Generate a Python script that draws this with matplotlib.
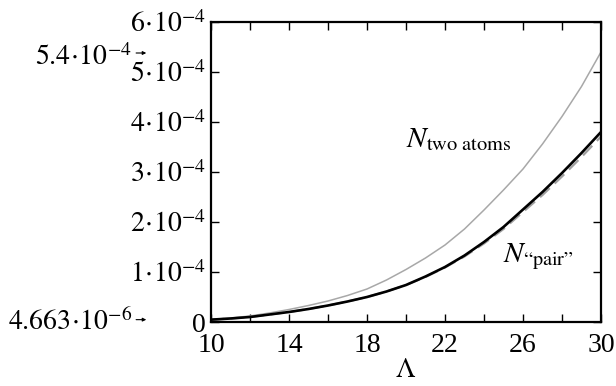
import matplotlib
matplotlib.use("Agg")
import matplotlib.pyplot as plt
import numpy as np

plt.rcParams.update({
    "font.family": "serif",
    "font.serif": ["Liberation Serif", "DejaVu Serif"],
    "mathtext.fontset": "stix",
    "xtick.direction": "in",
    "ytick.direction": "in",
    "font.size": 20,
})

# Lambda grid and curves (units of 1e-4)
lam = [10, 11, 12, 13, 14, 15, 16, 17, 18, 19, 20,
       21, 22, 23, 24, 25, 26, 27, 28, 29, 30]
n_two_atoms = [0.047, 0.08, 0.12, 0.18, 0.25, 0.33, 0.42, 0.53, 0.66, 0.84, 1.05,
               1.28, 1.54, 1.86, 2.24, 2.64, 3.06, 3.56, 4.11, 4.71, 5.40]
n_pair = [0.047, 0.07, 0.10, 0.15, 0.20, 0.26, 0.33, 0.41, 0.50, 0.61, 0.74,
          0.91, 1.10, 1.33, 1.60, 1.90, 2.25, 2.60, 2.98, 3.38, 3.80]
n_pair_approx = [0.047, 0.07, 0.10, 0.15, 0.20, 0.26, 0.33, 0.41, 0.50, 0.61, 0.74,
                 0.90, 1.09, 1.31, 1.57, 1.86, 2.20, 2.54, 2.91, 3.30, 3.71]

yticks = [0, 1, 2, 3, 4, 5, 6]
ytick_labels = ["0"] + [r"$%d\!\cdot\!10^{-4}$" % v for v in yticks[1:]]
xticks = list(range(10, 31, 2))
xtick_labels = [str(v) if (v - 10) % 4 == 0 else "" for v in xticks]

fig = plt.figure(figsize=(6.16, 3.86), dpi=100)
ax = fig.add_axes([211/616, 64/386, 390/616, 300/386])

ax.plot(lam, n_two_atoms, color="#a8a8a8", lw=1.1)
ax.plot(lam, n_pair_approx, color="#a0a0a0", lw=1.6, ls=(0, (6, 3)))
ax.plot(lam, n_pair, color="black", lw=1.9)

ax.set_xlim(10, 30)
ax.set_ylim(0, 6)
ax.set_xticks(xticks)
ax.set_xticklabels(xtick_labels)
ax.set_yticks(yticks)
ax.set_yticklabels(ytick_labels)
ax.tick_params(top=True, right=True, length=6, width=1.0, labelsize=20)
ax.tick_params(axis="y", pad=4)
ax.tick_params(axis="x", pad=8)
for s in ax.spines.values():
    s.set_linewidth(1.6)

ax.set_xlabel(r"$\Lambda$", fontsize=20, labelpad=0)

ax.text(20.0, 3.5, r"$N_{\mathrm{two\ atoms}}$", fontsize=21)
ax.text(24.95, 1.2, r"$N_{\mathrm{“pair”}}$", fontsize=21)

# markers for end values outside the axes
ax.text(-0.203, 5.14, r"$5.4\!\cdot\!10^{-4}$", transform=ax.get_yaxis_transform(),
        ha="right", va="baseline", fontsize=20, clip_on=False)
ax.text(-0.203, -0.16, r"$4.663\!\cdot\!10^{-6}$", transform=ax.get_yaxis_transform(),
        ha="right", va="baseline", fontsize=20, clip_on=False)
for yv in [5.38, 0.047]:
    ax.annotate("", xy=(-0.166, yv), xytext=(-0.192, yv),
                xycoords=ax.get_yaxis_transform(), textcoords=ax.get_yaxis_transform(),
                arrowprops=dict(arrowstyle="-|>", lw=0.8, color="black",
                                mutation_scale=5, shrinkA=0, shrinkB=0))

fig.savefig("out.png", dpi=100)
